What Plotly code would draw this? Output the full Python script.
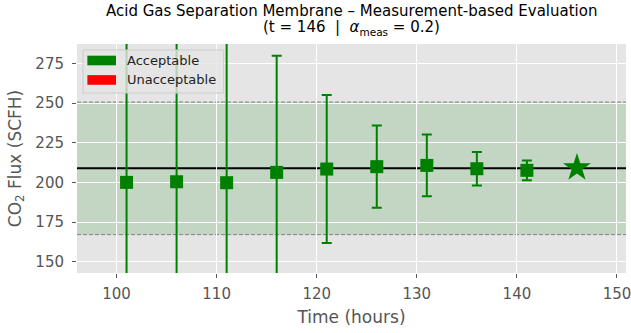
import plotly.graph_objects as go

# Data
times = [101, 106, 111, 116, 121, 126, 131, 136, 141]
flux = [200.0, 200.4, 199.8, 206.3, 208.4, 209.9, 210.7, 208.6, 207.6]
flux_err = [260.0, 170.0, 110.0, 73.5, 46.6, 25.9, 19.4, 10.5, 6.2]
current_time = [146]
current_flux = [209.2]
reference_flux = 208.85
alpha_meas = 0.2
x_ticks = [100, 110, 120, 130, 140, 150]
y_ticks = [150, 175, 200, 225, 250, 275]
legend_labels = ["Acceptable", "Unacceptable"]
legend_colors = ["#008000", "#FF0000"]
title_line1 = "Acid Gas Separation Membrane \u2013 Measurement-based Evaluation"
title_line2 = "(t = 146  |  <i>\u03b1</i><sub>meas</sub> = 0.2)"

GREEN = "#008000"
fig = go.Figure()

fig.add_trace(go.Scatter(
    x=times, y=flux, mode="markers",
    marker=dict(symbol="square", size=13, color=GREEN, line=dict(width=0)),
    error_y=dict(type="data", array=flux_err, visible=True, color=GREEN,
                 thickness=2, width=5),
    showlegend=False,
))
fig.add_trace(go.Scatter(
    x=current_time, y=current_flux, mode="markers",
    marker=dict(symbol="star", size=21, color=GREEN, line=dict(width=0)),
    showlegend=False,
))

lo = reference_flux * (1 - alpha_meas)
hi = reference_flux * (1 + alpha_meas)
fig.add_shape(type="rect", xref="paper", x0=0, x1=1, yref="y", y0=lo, y1=hi,
              fillcolor="rgba(0,128,0,0.15)", line=dict(width=0), layer="between")
for v in (lo, hi):
    fig.add_shape(type="line", xref="paper", x0=0, x1=1, yref="y", y0=v, y1=v,
                  line=dict(color="#808080", width=1, dash="4px,2px"), layer="between")
fig.add_shape(type="line", xref="paper", x0=0, x1=1, yref="y",
              y0=reference_flux, y1=reference_flux,
              line=dict(color="black", width=2), layer="between")

# Legend (drawn in paper coordinates)
fig.add_shape(type="rect", xref="paper", yref="paper", x0=0.011, x1=0.267,
              y0=0.786, y1=0.974, fillcolor="rgba(229,229,229,0.8)",
              line=dict(color="#CCCCCC", width=1), layer="above")
for i, (lab, col) in enumerate(zip(legend_labels, legend_colors)):
    yc = 0.928 - i * 0.085
    fig.add_shape(type="rect", xref="paper", yref="paper", x0=0.0189, x1=0.0710,
                  y0=yc - 0.021, y1=yc + 0.021, fillcolor=col, line=dict(width=0),
                  layer="above")
    fig.add_annotation(xref="paper", yref="paper", x=0.087, y=yc, text=lab,
                       showarrow=False, xanchor="left", yanchor="middle",
                       font=dict(size=13, color="#222222"))

# Title (two lines as separate annotations for exact spacing)
fig.add_annotation(xref="paper", yref="paper", x=0.5, y=1.142, text=title_line1,
                   showarrow=False, xanchor="center", yanchor="middle", height=16,
                   font=dict(size=15, color="black"))
fig.add_annotation(xref="paper", yref="paper", x=0.5, y=1.070, text=title_line2,
                   showarrow=False, xanchor="center", yanchor="middle", height=16,
                   font=dict(size=15, color="black"))

fig.update_layout(
    width=631, height=333,
    margin=dict(l=77, r=5, t=44, b=60),
    paper_bgcolor="white", plot_bgcolor="#E5E5E5",
    font=dict(family="DejaVu Sans", color="#555555"),
    showlegend=False,
)
fig.update_xaxes(range=[96.05, 150.9], tickvals=x_ticks, showgrid=True,
                 gridcolor="white", gridwidth=1, zeroline=False, automargin=False,
                 ticks="outside", ticklen=4, tickcolor="#555555",
                 ticklabelstandoff=3, ticklabeloverflow="allow",
                 tickfont=dict(size=15, color="#555555"),
                 title=dict(text="Time (hours)", font=dict(size=17, color="#555555"),
                            standoff=9))
fig.update_yaxes(range=[142.9, 287.2], tickvals=y_ticks, showgrid=True,
                 gridcolor="white", gridwidth=1, zeroline=False, automargin=False,
                 ticks="outside", ticklen=4, tickcolor="#555555",
                 ticklabelstandoff=5,
                 tickfont=dict(size=15, color="#555555"),
                 title=dict(text="CO<sub>2</sub> Flux (SCFH)",
                            font=dict(size=17, color="#555555"), standoff=9))

fig.write_html("out.html", config={"displayModeBar": False},
               post_script="document.body.style.margin='0';")
